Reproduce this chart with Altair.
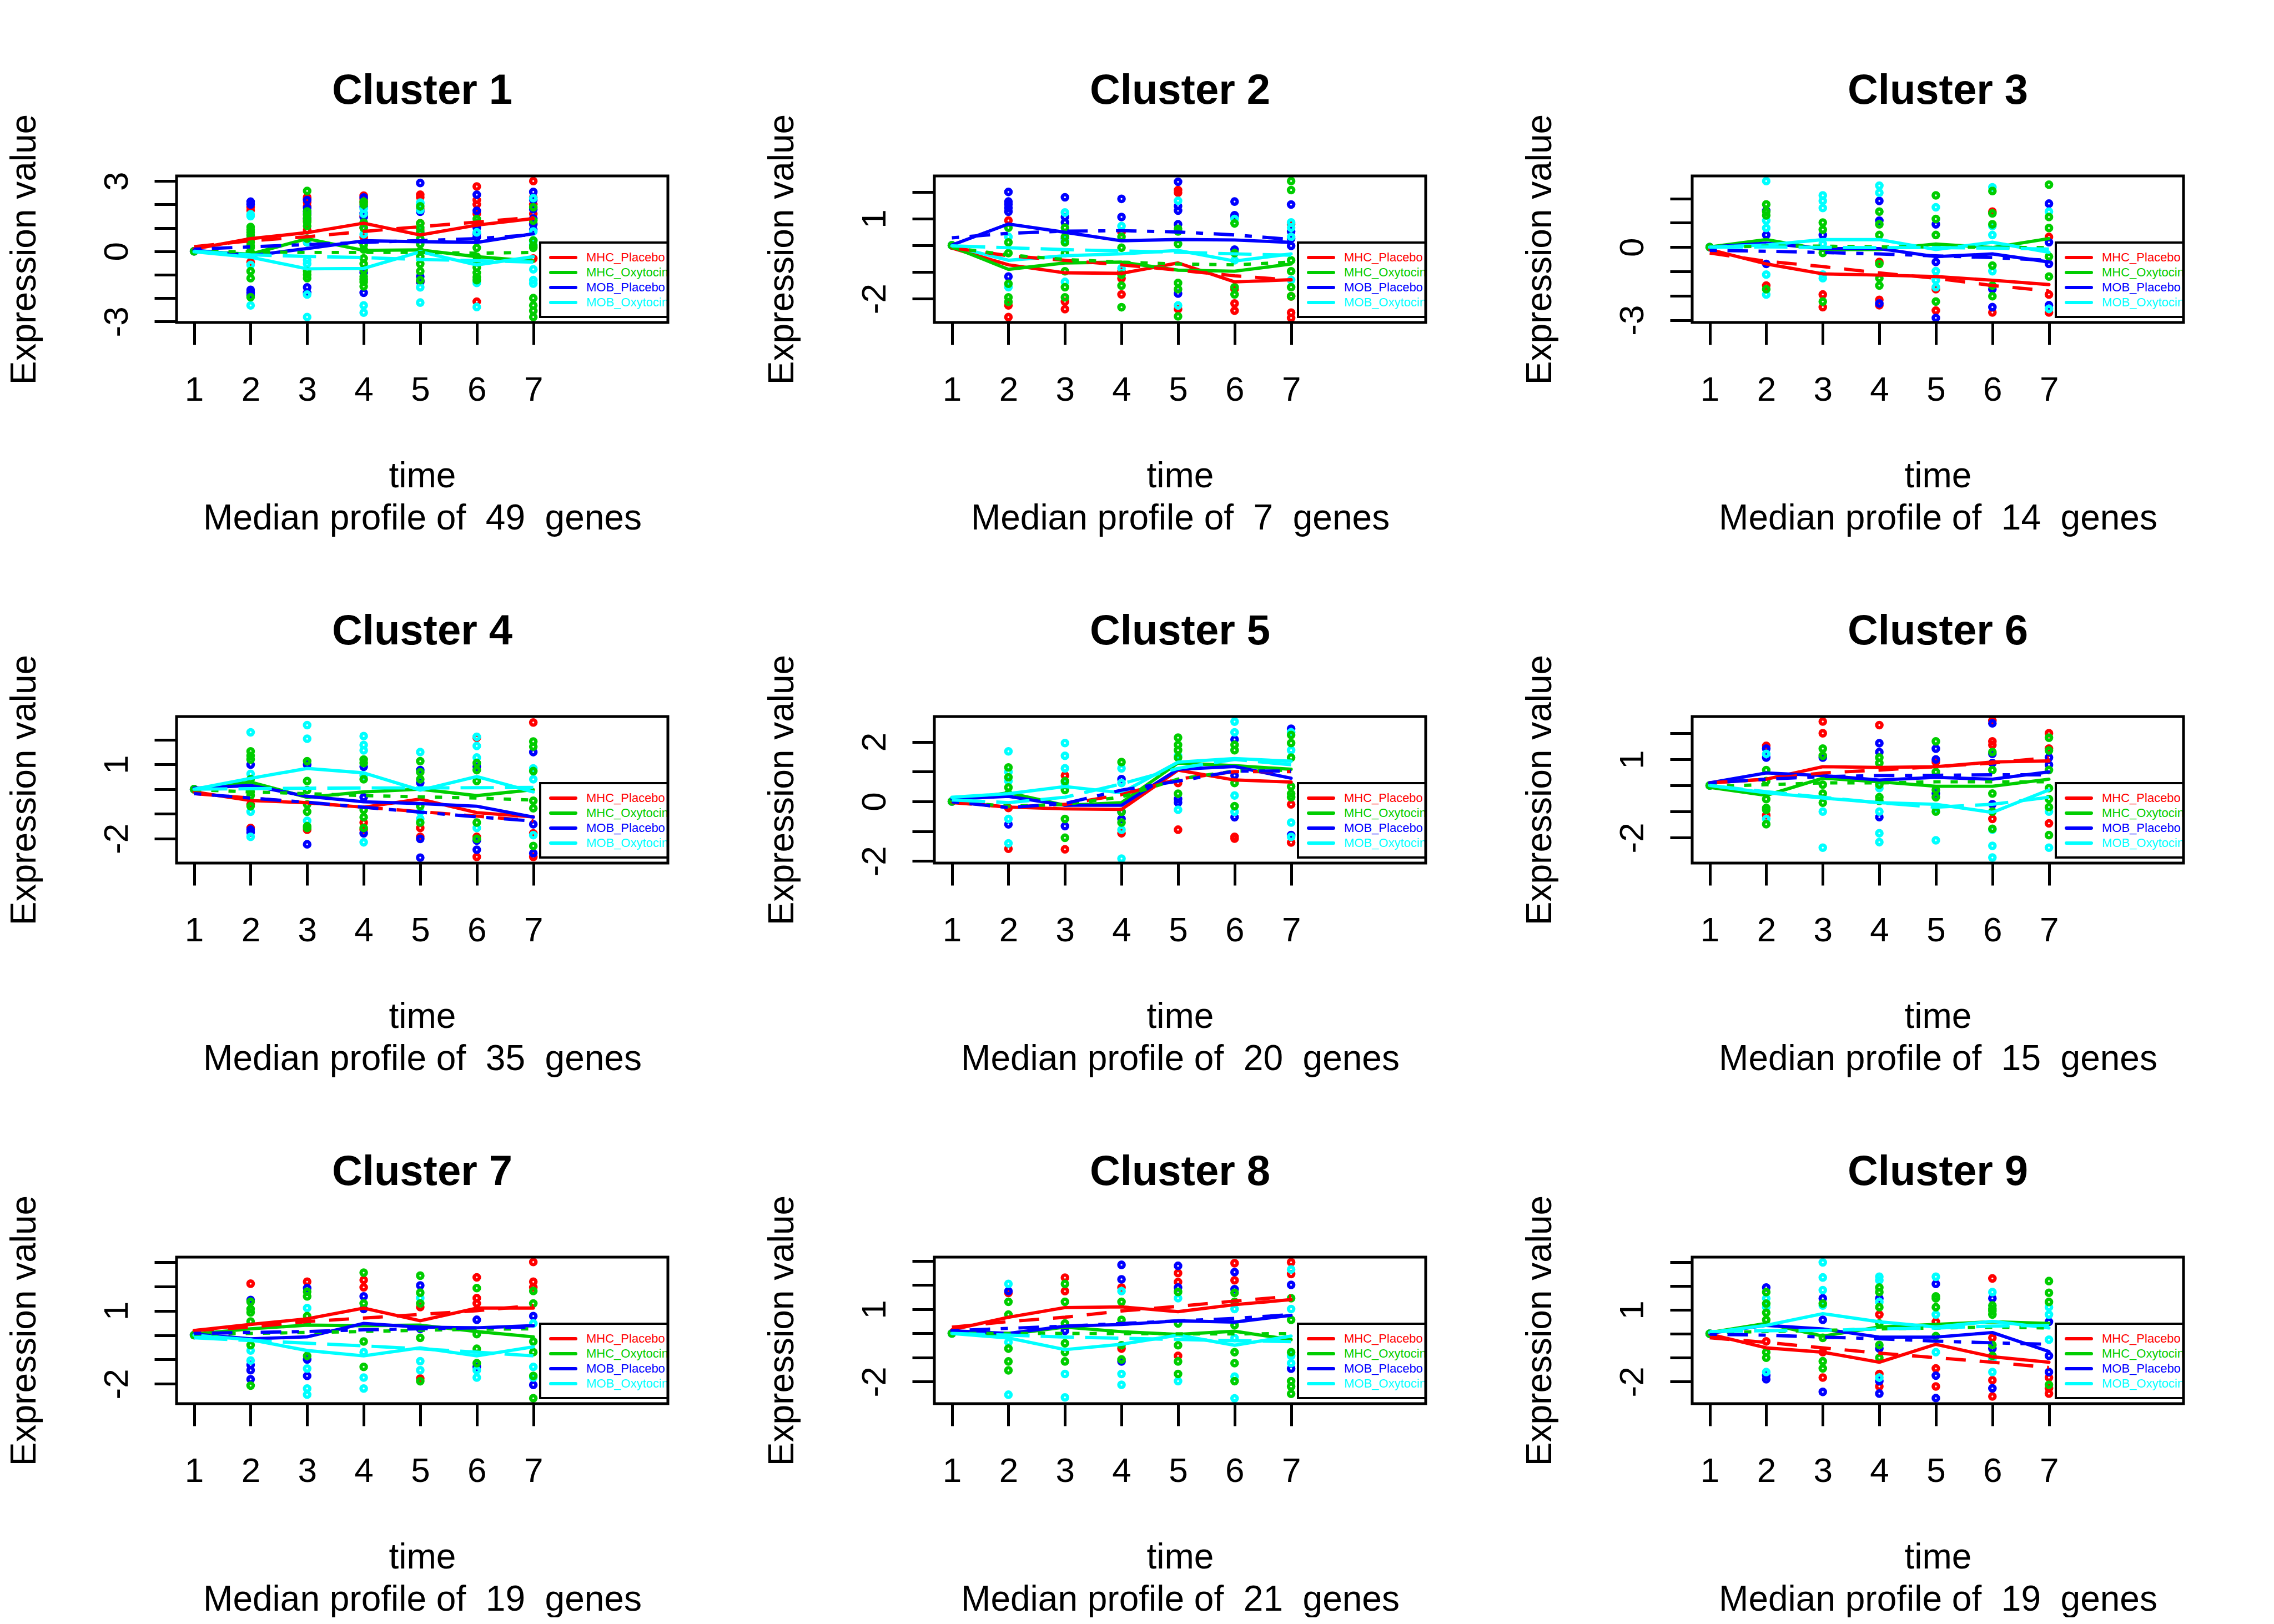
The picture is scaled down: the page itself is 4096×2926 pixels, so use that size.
import json
import altair as alt
import pandas as pd

SERIES = ["MHC_Placebo", "MHC_Oxytocin", "MOB_Placebo", "MOB_Oxytocin"]
KEYS = ["R", "G", "B", "C"]
COLORS = ["#FF0000", "#00CD00", "#0000FF", "#00FFFF"]
TIMES = [1, 2, 3, 4, 5, 6, 7]
GENES = [49, 7, 14, 35, 20, 15, 19, 21, 19]

Y_DOMAINS = [[-3.04, 3.22], [-2.89, 2.6], [-3.1, 2.93], [-2.99, 2.94], [-2.07, 2.85],
             [-2.97, 2.64], [-2.81, 3.2], [-2.91, 3.16], [-2.92, 3.2]]
Y_TICKS = [[-3, -2, -1, 0, 1, 2, 3], [-2, -1, 0, 1, 2], [-3, -2, -1, 0, 1, 2], [-2, -1, 0, 1, 2],
           [-2, -1, 0, 1, 2], [-2, -1, 0, 1, 2], [-2, -1, 0, 1, 2, 3], [-2, -1, 0, 1, 2, 3],
           [-2, -1, 0, 1, 2, 3]]
Y_LABELED = [[3, 0, -3], [1, -2], [0, -3], [1, -2], [2, 0, -2], [1, -2], [1, -2], [1, -2], [1, -2]]

# median profiles (solid lines), order: MHC_Placebo, MHC_Oxytocin, MOB_Placebo, MOB_Oxytocin
MED1 = [[0.1, 0.54, 0.8, 1.2, 0.7, 1.12, 1.4], [0.0, -0.12, 0.54, 0.04, 0.06, -0.23, -0.42],
        [0.05, -0.19, 0.12, 0.45, 0.41, 0.38, 0.75], [-0.02, -0.25, -0.75, -0.73, -0.02, -0.58, -0.23]]
MED2 = [[-0.1, -0.73, -1.03, -1.05, -0.66, -1.37, -1.29], [-0.05, -0.9, -0.66, -0.63, -0.93, -0.97, -0.7],
        [0.01, 0.8, 0.49, 0.17, 0.22, 0.2, 0.11], [-0.02, -0.56, -0.39, -0.32, -0.19, -0.59, -0.32]]
MED3 = [[-0.1, -0.69, -1.1, -1.15, -1.21, -1.36, -1.54], [0.01, 0.31, -0.1, -0.1, 0.13, -0.02, 0.35],
        [0.0, 0.16, -0.06, -0.06, -0.39, -0.28, -0.61], [0.0, 0.09, 0.31, 0.31, -0.1, 0.2, -0.21]]
MED4 = [[-0.11, -0.46, -0.55, -0.73, -0.4, -0.95, -1.12], [-0.02, 0.29, -0.33, -0.11, 0.0, -0.26, -0.02],
        [0.04, 0.15, -0.29, -0.51, -0.58, -0.69, -1.13], [0.0, 0.44, 0.84, 0.66, -0.04, 0.51, -0.11]]
MED5 = [[-0.01, -0.19, -0.25, -0.27, 1.05, 0.72, 0.65], [0.02, 0.29, -0.13, -0.04, 1.29, 1.2, 1.08],
        [0.08, 0.17, -0.13, -0.13, 1.08, 1.17, 0.78], [0.14, 0.26, 0.5, 0.29, 1.32, 1.44, 1.35]]
MED6 = [[0.1, 0.24, 0.72, 0.69, 0.72, 0.9, 0.94], [-0.07, -0.38, 0.28, 0.14, -0.03, -0.03, 0.24],
        [0.1, 0.48, 0.38, 0.21, 0.31, 0.24, 0.52], [0.0, -0.28, -0.48, -0.66, -0.72, -1.03, -0.17]]
MED7 = [[0.19, 0.44, 0.67, 1.11, 0.59, 1.11, 1.11], [0.04, 0.26, 0.41, 0.39, 0.41, 0.15, -0.07],
        [0.04, -0.15, -0.07, 0.48, 0.33, 0.3, 0.39], [0.0, -0.19, -0.63, -0.85, -0.52, -0.85, -0.48]]
MED8 = [[0.15, 0.67, 1.07, 1.1, 0.9, 1.19, 1.4], [0.0, -0.04, 0.26, 0.07, -0.04, 0.09, -0.26],
        [0.11, 0.0, 0.3, 0.37, 0.52, 0.47, 0.75], [0.0, -0.19, -0.67, -0.45, -0.07, -0.49, -0.11]]
MED9 = [[-0.02, -0.59, -0.77, -1.19, -0.44, -0.96, -1.19], [0.05, 0.43, -0.1, 0.28, 0.39, 0.5, 0.43],
        [0.02, 0.35, 0.2, -0.14, -0.14, 0.05, -0.74], [0.05, 0.35, 0.84, 0.5, 0.28, 0.52, 0.24]]

# second profiles (dashed / dotted / dot-dash / long-dash lines)
TRD1 = [[0.2, 0.45, 0.62, 0.85, 1.05, 1.25, 1.45], [0.0, -0.02, -0.05, -0.05, -0.05, -0.08, -0.05],
        [0.09, 0.19, 0.29, 0.38, 0.46, 0.54, 0.71], [0.0, -0.15, -0.22, -0.27, -0.35, -0.4, -0.46]]
TRD2 = [[-0.09, -0.39, -0.56, -0.73, -0.93, -1.14, -1.3], [-0.09, -0.36, -0.53, -0.63, -0.7, -0.73, -0.63],
        [0.28, 0.45, 0.53, 0.55, 0.5, 0.39, 0.22], [-0.02, -0.09, -0.16, -0.21, -0.26, -0.32, -0.37]]
TRD3 = [[-0.24, -0.58, -0.8, -1.06, -1.28, -1.58, -1.8], [0.0, 0.04, 0.04, 0.01, 0.01, -0.01, -0.02],
        [-0.13, -0.17, -0.22, -0.28, -0.36, -0.43, -0.54], [0.0, 0.01, -0.01, -0.02, -0.02, -0.04, -0.08]]
TRD4 = [[-0.18, -0.36, -0.55, -0.73, -0.91, -1.09, -1.28], [-0.02, -0.11, -0.18, -0.26, -0.31, -0.36, -0.44],
        [-0.18, -0.36, -0.53, -0.73, -0.93, -1.12, -1.29], [0.0, 0.02, 0.04, 0.05, 0.05, 0.06, 0.07]]
TRD5 = [[-0.04, -0.19, -0.1, 0.23, 0.75, 1.0, 1.0], [-0.01, -0.16, -0.1, 0.15, 0.75, 1.02, 1.05],
        [-0.01, -0.21, -0.07, 0.38, 0.68, 1.02, 1.02], [0.05, -0.04, 0.14, 0.59, 1.11, 1.41, 1.23]]
TRD6 = [[0.1, 0.24, 0.48, 0.59, 0.72, 0.86, 1.07], [-0.03, 0.03, 0.1, 0.1, 0.14, 0.14, 0.14],
        [0.1, 0.24, 0.34, 0.38, 0.39, 0.41, 0.41], [0.0, -0.24, -0.45, -0.66, -0.83, -0.72, -0.45]]
TRD7 = [[0.19, 0.33, 0.56, 0.7, 0.85, 1.0, 1.22], [0.04, 0.07, 0.11, 0.15, 0.2, 0.24, 0.26],
        [0.07, 0.11, 0.15, 0.22, 0.26, 0.3, 0.33], [-0.11, -0.22, -0.33, -0.44, -0.56, -0.7, -0.85]]
TRD8 = [[0.26, 0.49, 0.67, 0.93, 1.12, 1.34, 1.54], [0.0, 0.0, 0.0, -0.01, -0.02, -0.02, -0.01],
        [0.11, 0.21, 0.3, 0.41, 0.52, 0.62, 0.78], [0.0, -0.07, -0.15, -0.2, -0.25, -0.3, -0.34]]
TRD9 = [[-0.17, -0.36, -0.59, -0.81, -1.0, -1.19, -1.41], [0.05, 0.09, 0.14, 0.2, 0.24, 0.28, 0.24],
        [-0.02, -0.06, -0.14, -0.21, -0.31, -0.38, -0.44], [0.09, 0.13, 0.14, 0.2, 0.24, 0.32, 0.35]]

# individual gene values (open circles), per series, per time point 1..7
P1 = {
    "R": [[0.0], [1.88, 1.75, 0.5, 0.2, -0.46], [2.31, 2.23, 2.1, 1.92, 1.3, 0.9, 0.38], [2.38, 2.23, 2.1, 1.5, 1.0, 0.6],
          [2.42, 2.31, 1.8, 1.2, 0.9, -1.3], [2.77, 2.19, 2.0, 1.6, 1.2, -2.15], [3.0, 2.3, 2.0, 1.6, 1.2, -0.31]],
    "G": [[0.0], [1.04, 0.92, 0.81, 0.69, 0.55, 0.38, 0.25, 0.15, -0.04, -0.85, -1.15, -1.96],
          [2.58, 1.7, 1.54, 1.38, 1.25, 1.08, 0.54, -0.85, -1.0, -1.15],
          [2.12, 2.0, 1.23, 1.0, 0.27, 0.08, -0.3, -0.54, -0.8, -1.08, -1.2, -1.31, -1.5],
          [1.92, 1.19, 1.0, 0.8, 0.54, 0.31, 0.0, -0.23, -0.54, -0.85, -1.23],
          [1.38, 1.23, 0.15, -0.23, -0.4, -0.69, -0.92, -1.1, -1.23],
          [1.88, 1.31, 0.46, 0.23, 0.15, -2.0, -2.31, -2.54, -2.81]],
    "B": [[0.0], [2.12, 2.0, -1.65, -1.77, -1.88], [2.19, 1.85, 1.7, 1.6, 1.4, -1.54, -1.77],
          [2.3, 1.9, 1.62, 1.46, 1.2, -0.92, -1.77], [2.92, 1.69, -1.08, -1.3], [2.42, 1.73, 1.15, 1.0, 0.75, 0.6],
          [2.54, 2.2, 1.8, 1.4, 1.15, 0.92]],
    "C": [[0.0], [1.58, 1.5, -0.58, -2.31], [0.38, -0.38, -0.54, -1.85, -2.81], [1.81, 1.6, 0.73, -2.31, -2.62],
          [2.08, 2.04, 1.77, 0.85, -1.54, -2.19], [0.81, -1.35, -2.38], [2.27, 0.85, 0.46, 0.3, -0.77, -1.23, -1.38]],
}
P2 = {
    "R": [[0.0], [0.93, -2.25, -2.69], [-2.11, -2.39], [0.49, -0.97, -1.24, -1.84], [2.07, 1.97, -2.39],
          [-1.64, -2.18, -2.45], [0.79, -1.91, -2.52, -2.72]],
    "G": [[0.0], [0.66, 0.11, -0.29, -1.44, -1.95, -2.12], [0.66, 0.32, 0.11, -0.29, -0.97, -1.57, -1.95],
          [0.32, -0.09, -1.1, -1.51, -2.32], [0.62, 0.52, 0.05, -1.41, -1.64, -2.66], [0.82, -0.29, -1.57, -1.84],
          [2.41, 2.07, -0.56, -0.97, -1.57, -1.91]],
    "B": [[0.0], [2.0, 1.64, 1.54, 1.4, 1.26, -1.17], [1.8, 1.06, 0.86, 0.25], [1.74, 1.06],
          [2.38, 1.47, 1.3, 0.79, -1.81], [1.64, 1.13, 1.06, -0.16], [1.53, 0.52, 0.25, -0.02]],
    "C": [[0.0], [0.32, -1.57], [1.23, 0.18, -1.37], [0.72, -0.86], [1.67, -2.25], [0.99, -0.56],
          [0.86, 0.66, 0.32, -1.3]],
}
P3 = {
    "R": [[0.0], [-1.58], [-1.95, -2.47], [-0.61, -2.17, -2.39], [-1.73, -2.61], [1.46, -2.69], [0.42, -1.95, -2.69]],
    "G": [[0.0], [1.76, 1.46, 1.31, -1.73], [1.01, 0.72, -0.24, -2.24], [1.46, 0.94, 0.5, -0.69, -1.28, -1.58],
          [2.13, 1.16, 0.5, -2.24], [2.31, 1.39, 0.94, -0.76, -1.58, -2.02], [2.57, 1.24, 0.79, -0.39, -1.21]],
    "B": [[0.0], [1.5, 0.5, -0.69], [0.5], [1.9, 1.09, -2.32], [0.94, -0.61, -2.91], [-1.73, -2.47],
          [1.79, 0.2, -0.69, -2.39]],
    "C": [[0.0], [2.72, 1.09, 0.79, -1.13, -1.95], [2.13, 1.9, 1.61, 0.13, -1.13, -1.28], [2.53, 2.24],
          [1.64, -0.99, -1.36, -1.65], [2.46, 0.87, 0.5, -0.99], [1.46, -2.54]],
}
P4 = {
    "R": [[0.0], [-0.62, -1.57], [-1.64], [-1.35, -1.64], [-1.57, -1.93], [2.08, -1.93, -2.74], [2.7, -1.79, -2.74]],
    "G": [[0.0], [1.53, 1.35, 1.2, 0.4, -0.11, -0.26, -0.69], [1.13, 0.33, -0.04, -0.62, -0.91, -1.5, -1.57],
          [1.2, 1.06, 0.4, -0.84, -1.13, -1.57], [1.13, 0.69, 0.4, -0.69, -1.35], [1.06, 0.77, 0.33, -1.35, -2.01],
          [1.93, 1.72, 0.73, -0.47, -0.77, -2.3]],
    "B": [[0.0], [0.99, -1.64, -1.75], [0.99, -2.23], [0.91, -0.33, -1.79], [0.77, 0.26, -2.01, -2.77],
          [0.91, -2.08, -2.45], [1.5, -1.42, -2.59]],
    "C": [[0.0], [2.3, 0.62, -0.91, -1.93], [2.59, 2.04, 0.33, -1.28], [2.15, 1.79, 1.57, 0.55, -2.15],
          [1.5, -0.91, -1.2], [2.12, 1.75, 1.28, -1.57], [0.84, 0.4, -1.86]],
}
P5 = {
    "R": [[0.0], [-0.22, -1.59], [0.87, -1.61], [-1.07], [0.62, -0.95], [-1.19, -1.25], [-0.1, -1.38]],
    "G": [[0.0], [1.14, 0.81, 0.47, 0.26], [0.68, 0.38, -0.59, -1.22], [1.32, -0.35, -0.71],
          [2.14, 1.9, 1.72, 1.47, 0.26], [1.9, 1.72, 0.62, -0.16], [2.23, 1.96, 1.47, 0.5, 0.26, 0.14]],
    "B": [[0.0], [-0.77], [-0.83], [0.75, -0.35, -0.59], [0.08, -0.04], [2.08, 0.87, -0.53], [2.44, -1.13]],
    "C": [[0.0], [1.68, 0.99, 0.68, -0.59, -1.41], [1.96, 1.53, 1.11, 0.62], [1.11, 0.62, -0.95, -1.92],
          [1.53, -0.28], [2.68, 2.32, 0.2, -0.35], [2.32, 1.72, -0.71, -1.19]],
}
P6 = {
    "R": [[0.0], [1.52, -1.14], [2.45, 2.0], [2.31], [0.9], [2.48, 1.69, 1.55, -1.28], [2.0, 1.41, -1.45]],
    "G": [[0.0], [0.59, 0.17, -0.52, -0.86, -0.93, -1.48], [1.41, 1.14, 0.03, -0.31, -0.66],
          [1.07, 0.86, 0.03, -0.45, -0.59], [1.69, 0.52, -0.17, -0.45, -1.0], [1.28, 0.59, -0.31, -1.0, -1.66],
          [1.83, 1.34, 0.59, -0.1, -0.52, -0.83, -1.9]],
    "B": [[0.0], [1.41, 1.07], [1.07], [1.62, 1.28, -1.21], [1.41, 1.0, -0.31], [2.38, 1.21, 0.86, -0.72], [1.07, 0.79]],
    "C": [[0.0], [1.21, -1.28], [-1.0, -2.38], [-0.1, -1.0, -1.83, -2.17], [-0.86, -2.1], [-1.69, -2.31, -2.76],
          [-1.0, -2.38]],
}
P7 = {
    "R": [[0.0], [2.11], [2.19], [2.26, 1.96], [1.15, -1.78], [2.37, 1.52, 1.3], [3.0, 2.19, 1.96]],
    "G": [[0.0], [1.37, 1.07, 0.93, 0.56, -0.41, -2.07], [1.78, 1.59, 0.78, 0.56, -0.85], [2.56, 1.3, -0.26, -1.3],
          [2.44, 1.74, 1.3, -0.11, -1.89], [1.93, 0.04, -0.56, -1.15], [1.81, 1.3, -0.26, -0.7, -1.67, -2.59]],
    "B": [[0.0], [1.44, -1.22, -1.44, -1.81], [1.93, -1.0, -1.67], [1.59, 1.07], [2.04, 0.26], [0.63, -1.3],
          [0.78, -2.04]],
    "C": [[0.0], [-0.63, -1.04], [1.11, -1.37, -2.19, -2.44], [-0.7, -1.74, -2.19], [1.52, -1.07, -1.44],
          [-1.44, -1.74], [0.48, -1.3, -1.74]],
}
P8 = {
    "R": [[0.0], [1.68], [2.31, 1.75], [1.9, -0.63], [2.5, 2.13, -0.93], [2.91, 2.2], [2.95, 2.46]],
    "G": [[0.0], [1.31, 0.78, -0.63, -1.16, -1.53], [2.05, 1.31, 0.41, -0.41, -0.78, -1.16], [1.31, 0.56, -0.49, -1.08],
          [1.72, 0.41, -0.49, -1.16, -1.68], [1.68, 1.31, 0.34, -0.78, -1.23, -1.98], [1.46, 0.56, -0.78, -1.98, -2.2, -2.5]],
    "B": [[0.0], [1.75], [0.11], [2.84, 2.24, -1.16], [2.8, 1.9], [2.54, 1.83], [2.01, -1.46]],
    "C": [[0.0], [2.05, -0.37, -2.54], [-1.68, -2.65], [1.75, -1.68, -2.13], [1.46, -1.98], [1.01, -0.19, -1.79, -2.69],
          [2.65, 1.01, -0.93, -1.23]],
}
P9 = {
    "R": [[0.0], [-0.32], [-0.77, -1.83], [0.8, -1.68, -2.2], [0.5, -1.45, -2.2], [2.31, -0.17, -1.94, -2.62],
          [-1.83, -2.28, -2.5]],
    "G": [[0.0], [1.74, 1.26, 0.88, 0.58, -0.77, -1.0], [1.26, -0.17, -1.15, -1.45], [1.93, 1.74, 1.11, 0.43, -0.47, -1.0],
          [1.56, 1.48, 1.11, -0.1], [1.18, 1.03, 0.95, 0.8, -0.47, -0.92], [2.2, 1.71, 1.33, -2.13]],
    "B": [[0.0], [1.93, -1.75, -1.9], [1.48, 0.58, -2.43], [1.48, -0.62, -1.98, -2.5], [2.08, -1.75, -2.69],
          [1.48, -0.62, -2.28], [0.5, -0.92, -1.6]],
    "C": [[0.0], [1.48, 1.11, -1.6], [2.98, 2.35, 1.82, 1.18], [2.38, 2.23, 1.33, -1.83], [2.38, 0.8, -0.77],
          [1.74, -1.08, -1.6], [1.11, 0.8, -0.25]],
}

MEDIANS = [MED1, MED2, MED3, MED4, MED5, MED6, MED7, MED8, MED9]
TRENDS = [TRD1, TRD2, TRD3, TRD4, TRD5, TRD6, TRD7, TRD8, TRD9]
POINTS = [P1, P2, P3, P4, P5, P6, P7, P8, P9]

# ---------------- layout / style (output pixels) ----------------
W, H = 885, 264
FONT = "Liberation Sans"
XDOM = [0.69, 9.38]
LW = 5.9
DASHES = [[36, 25], [13, 18], [13, 19, 37, 19], [60, 20]]
POINT_ORDER = ["R", "B", "C", "G"]
HSP, VSP = 170, 134
NB = "\u00a0"

color_scale = alt.Scale(domain=SERIES, range=COLORS)


def one_row():
    return pd.DataFrame([{"k": 0}])


def panel(i):
    rows_p = []
    for key in POINT_ORDER:
        s = SERIES[KEYS.index(key)]
        for t, vals in zip(TIMES, POINTS[i][key]):
            for v in vals:
                rows_p.append({"series": s, "time": t, "value": v})
    df_p = pd.DataFrame(rows_p)
    df_m = pd.DataFrame([{"series": s, "time": t, "value": v}
                         for s, vals in zip(SERIES, MEDIANS[i]) for t, v in zip(TIMES, vals)])
    df_t = pd.DataFrame([{"series": s, "time": t, "value": v}
                         for s, vals in zip(SERIES, TRENDS[i]) for t, v in zip(TIMES, vals)])

    labeled = json.dumps(Y_LABELED[i])
    subtitle = f"Median profile of {NB}{GENES[i]} {NB}genes"
    x = alt.X("time:Q", scale=alt.Scale(domain=XDOM, nice=False, zero=False),
              axis=alt.Axis(values=TIMES, labelFlush=False, labelOverlap=False,
                            labelBaseline="alphabetic", labelPadding=100, labelAlign="center",
                            title=["time", subtitle],
                            titleX=W / 2, titleY=296, titleAlign="center",
                            titleBaseline="alphabetic", titleLineHeight=76))
    y = alt.Y("value:Q", scale=alt.Scale(domain=Y_DOMAINS[i], nice=False, zero=False),
              axis=alt.Axis(values=Y_TICKS[i], labelFlush=False, labelOverlap=False,
                            labelAngle=270, labelAlign="center", labelBaseline="alphabetic",
                            labelPadding=49,
                            labelExpr=(f"indexof({labeled}, datum.value) >= 0 ? "
                                       "(datum.value < 0 ? '-' + toString(-datum.value) : toString(datum.value)) : ''"),
                            title="Expression value", titleAngle=270, titleX=-255, titleY=H / 2,
                            titleAlign="center", titleBaseline="alphabetic"))
    color = alt.Color("series:N", scale=color_scale, legend=None)

    pts = alt.Chart(df_p).mark_point(shape="circle", filled=False, size=90, strokeWidth=6.1,
                                     opacity=1, clip=True).encode(x=x, y=y, color=color)
    med = alt.Chart(df_m).mark_line(strokeWidth=LW, strokeJoin="round", strokeCap="round", clip=True).encode(
        x=x, y=y, color=color, detail="series:N")
    trd = alt.Chart(df_t).mark_line(strokeWidth=LW, clip=True).encode(
        x=x, y=y, color=color, detail="series:N",
        strokeDash=alt.StrokeDash("series:N", scale=alt.Scale(domain=SERIES, range=DASHES), legend=None))

    layers = [pts, med, trd]

    # legend box
    lx0, ly0, ly1 = 655, 120, 254
    layers.append(alt.Chart(one_row()).mark_rect(fill="white", stroke="black", strokeWidth=4).encode(
        x=alt.value(lx0), x2=alt.value(W), y=alt.value(ly0), y2=alt.value(ly1)))
    for k, (s, c) in enumerate(zip(SERIES, COLORS)):
        yy = 147 + 27 * k
        layers.append(alt.Chart(one_row()).mark_rule(color=c, strokeWidth=6, strokeCap="round").encode(
            x=alt.value(674), x2=alt.value(719), y=alt.value(yy)))
        layers.append(alt.Chart(one_row()).mark_text(text=s, color=c, font=FONT, fontSize=22,
                                                     align="left", baseline="middle", clip=True).encode(
            x=alt.value(738), y=alt.value(yy)))

    # plot frame
    layers.append(alt.Chart(one_row()).mark_rect(fillOpacity=0, stroke="black", strokeWidth=5).encode(
        x=alt.value(0), x2=alt.value(W), y=alt.value(0), y2=alt.value(H)))
    # panel title
    layers.append(alt.Chart(one_row()).mark_text(text=f"Cluster {i + 1}", font=FONT, fontSize=76,
                                                 fontWeight="bold", align="center",
                                                 baseline="alphabetic", color="black").encode(
        x=alt.value(W / 2), y=alt.value(-130)))

    return alt.layer(*layers).properties(width=W, height=H)


panels = [panel(i) for i in range(9)]
rows = [alt.hconcat(*panels[r * 3:(r + 1) * 3], spacing=HSP) for r in range(3)]
chart = alt.vconcat(*rows, spacing=VSP).properties(
    padding={"left": 11, "top": 126, "right": 0, "bottom": 0}, background="white"
).configure_view(stroke=None).configure_axis(
    grid=False, domain=False, ticks=True, tickColor="black", tickWidth=5, tickSize=40,
    labelFont=FONT, labelFontSize=62, labelColor="black",
    titleFont=FONT, titleFontSize=64, titleFontWeight="normal", titleColor="black"
)

chart.save("out.html", embed_options={"renderer": "svg", "actions": False})
